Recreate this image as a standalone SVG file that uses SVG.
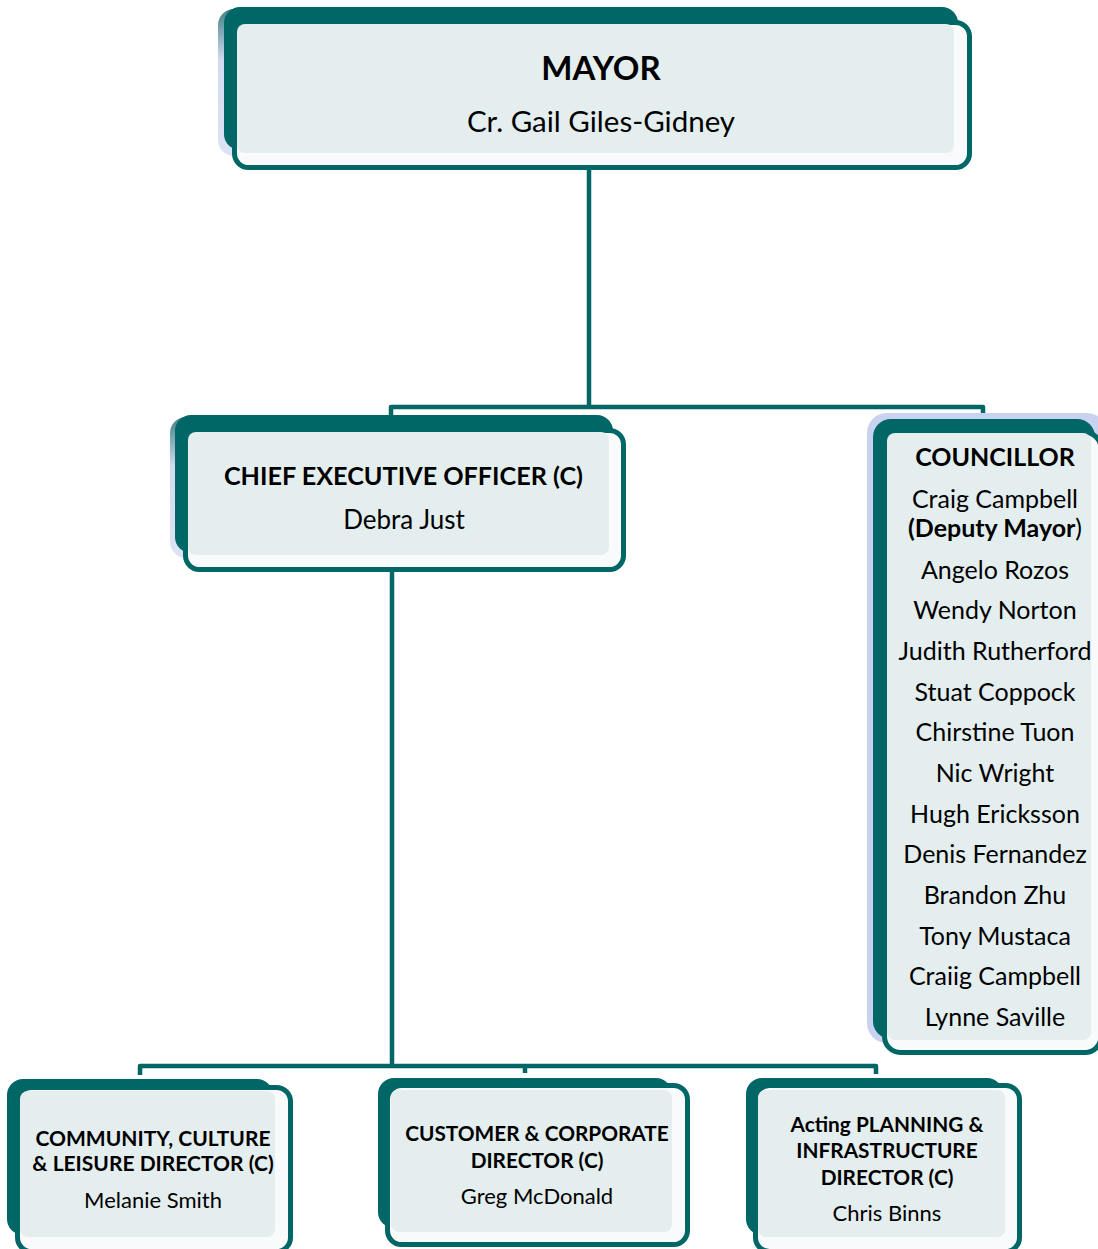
<svg xmlns="http://www.w3.org/2000/svg" width="1098" height="1249" viewBox="0 0 1098 1249">
<style>
.dark{fill:#006666}
.out{fill:#f8fafc;stroke:#006666;stroke-width:5}
.light{fill:#e4eeee}
.lav{fill:url(#lavg)}
.conn{fill:none;stroke:#006666;stroke-width:4.5;stroke-linejoin:round}
text{font-family:Lato,"Open Sans","Liberation Sans",sans-serif;fill:#000;text-anchor:middle}
.b{font-weight:bold}
</style>
<defs>
<linearGradient id="lavg" x1="0" y1="0" x2="0" y2="1">
<stop offset="0" stop-color="#3f8186"/>
<stop offset="0.35" stop-color="#d3dbf1"/>
<stop offset="1" stop-color="#dde3f4"/>
</linearGradient>
</defs>
<g id="connectors">
<path class="conn" d="M589,170 V407"/>
<path class="conn" d="M391,417 V407 H983 V418"/>
<path class="conn" d="M392,572 V1066"/>
<path class="conn" d="M140,1075 V1066 H876 V1074"/>
<path class="conn" d="M525,1066 V1073"/>
</g>
<g id="mayor">
<rect class="lav" x="218" y="9" width="80" height="147" rx="16"/>
<rect class="dark" x="224" y="7" width="734" height="143" rx="16"/>
<rect class="out" x="234.5" y="22.5" width="735" height="145" rx="14"/>
<rect class="light" x="237" y="24" width="717" height="129" rx="8"/>
<text class="b" x="601" y="80" font-size="33">MAYOR</text>
<text x="601" y="132" font-size="29.5">Cr. Gail Giles-Gidney</text>
</g>
<g id="ceo">
<rect class="lav" x="170" y="417" width="80" height="141" rx="16"/>
<rect class="dark" x="175" y="415" width="438" height="138" rx="16"/>
<rect class="out" x="185.5" y="430.5" width="438" height="139" rx="14"/>
<rect class="light" x="188" y="432" width="421" height="123" rx="8"/>
<text class="b" x="403.5" y="485" font-size="25.2">CHIEF EXECUTIVE OFFICER (C)</text>
<text x="404" y="529" font-size="26">Debra Just</text>
</g>
<g id="councillor">
<rect x="867" y="413" width="240" height="630" rx="20" fill="#c9d3ef"/>
<rect class="dark" x="873" y="419" width="222" height="620" rx="18"/>
<rect class="out" x="884.5" y="432.5" width="216.5" height="620" rx="16"/>
<rect class="light" x="887" y="433" width="204" height="607" rx="8"/>
<text class="b" x="995" y="466" font-size="25">COUNCILLOR</text>
<text x="995" y="508" font-size="25">Craig Campbell</text>
<text x="995" y="537" font-size="25"><tspan class="b">(Deputy Mayor</tspan>)</text>
<text x="995" y="579" font-size="25">Angelo Rozos</text>
<text x="995" y="619" font-size="25">Wendy Norton</text>
<text x="995" y="660" font-size="25">Judith Rutherford</text>
<text x="995" y="701" font-size="25">Stuat Coppock</text>
<text x="995" y="741" font-size="25">Chirstine Tuon</text>
<text x="995" y="782" font-size="25">Nic Wright</text>
<text x="995" y="823" font-size="25">Hugh Ericksson</text>
<text x="995" y="863" font-size="25">Denis Fernandez</text>
<text x="995" y="904" font-size="25">Brandon Zhu</text>
<text x="995" y="945" font-size="25">Tony Mustaca</text>
<text x="995" y="985" font-size="25">Craiig Campbell</text>
<text x="995" y="1026" font-size="25">Lynne Saville</text>
</g>
<g id="community">
<rect class="dark" x="7" y="1079" width="266" height="156" rx="16"/>
<rect class="out" x="17.5" y="1087.5" width="273" height="164" rx="14"/>
<rect class="light" x="20" y="1091" width="255" height="146" rx="8"/>
<text class="b" x="153" y="1146" font-size="21">COMMUNITY, CULTURE</text>
<text class="b" x="153" y="1171" font-size="21">&amp; LEISURE DIRECTOR (C)</text>
<text x="153" y="1208" font-size="22">Melanie Smith</text>
</g>
<g id="customer">
<rect class="dark" x="378" y="1078" width="294" height="150" rx="16"/>
<rect class="out" x="387.5" y="1085.5" width="300" height="159" rx="14"/>
<rect class="light" x="391" y="1090" width="281" height="142" rx="8"/>
<text class="b" x="537" y="1141" font-size="20.8">CUSTOMER &amp; CORPORATE</text>
<text class="b" x="537" y="1168" font-size="20.8">DIRECTOR (C)</text>
<text x="537" y="1204" font-size="22">Greg McDonald</text>
</g>
<g id="planning">
<rect class="dark" x="746" y="1078" width="257" height="157" rx="16"/>
<rect class="out" x="755.5" y="1085.5" width="264" height="166" rx="14"/>
<rect class="light" x="758" y="1090" width="247" height="147" rx="8"/>
<text class="b" x="887" y="1132" font-size="20.8">Acting PLANNING &amp;</text>
<text class="b" x="887" y="1158" font-size="20.8">INFRASTRUCTURE</text>
<text class="b" x="887" y="1185" font-size="20.8">DIRECTOR (C)</text>
<text x="887" y="1221" font-size="22">Chris Binns</text>
</g>
</svg>
